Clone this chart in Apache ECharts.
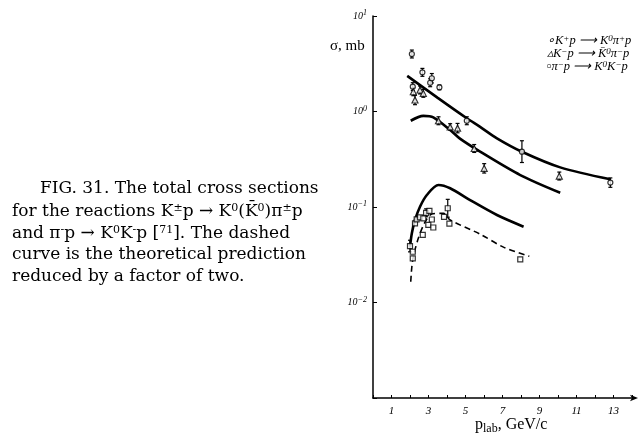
<!DOCTYPE html>
<html><head><meta charset="utf-8">
<script src="https://cdn.jsdelivr.net/npm/echarts@6/dist/echarts.min.js"></script>
<style>html,body{margin:0;padding:0;background:#fff}#c{width:643px;height:440px}</style>
</head><body><div id="c"></div>
<script>
// ---- data ----
const xTicks = [1, 3, 5, 7, 9, 11, 13];
const yTickExp = [-2, -1, 0, 1];
// K+ p -> K0 pi+ p  (circles): x, sigma (mb), error factor
const kpX = [2.1, 2.15, 2.67, 3.09, 3.18, 3.59, 5.07, 8.05, 12.83];
const kpY = [4.0, 1.82, 2.57, 2.0, 2.23, 1.79, 0.80, 0.38, 0.18];
const kpE = [1.1, 1.1, 1.1, 1.1, 1.12, 1.06, 1.1, 1.3, 1.12];
// K- p -> K0bar pi- p (triangles)
const kmX = [2.18, 2.27, 2.54, 2.72, 3.54, 4.17, 4.57, 5.47, 6.01, 10.07];
const kmY = [1.61, 1.32, 1.68, 1.55, 0.80, 0.69, 0.67, 0.41, 0.254, 0.211];
const kmE = [1.1, 1.12, 1.1, 1.1, 1.1, 1.08, 1.12, 1.1, 1.12, 1.1];
// pi- p -> K0 K- p (squares)
const pmX = [2.0, 2.15, 2.15, 2.27, 2.36, 2.54, 2.72, 2.87, 3.05, 3.18, 2.99, 3.26, 2.69, 4.04, 3.84, 4.13, 7.96];
const pmY = [0.039, 0.034, 0.029, 0.0675, 0.0743, 0.078, 0.076, 0.087, 0.091, 0.074, 0.065, 0.061, 0.051, 0.097, 0.079, 0.067, 0.0283];
const pmE = [1.15, 1.0, 1.0, 1.0, 1.0, 1.0, 1.0, 1.1, 1.0, 1.0, 1.0, 1.0, 1.0, 1.24, 1.0, 1.0, 1.0];
// theory curves
const c1X = [1.85, 3.5, 5.07, 5.79, 6.70, 8.05, 10.12, 12.83];
const c1Y = [2.36, 1.39, 0.85, 0.69, 0.524, 0.379, 0.26, 0.195];
const c2X = [2.04, 2.72, 3.26, 4.17, 4.70, 5.79, 7.96, 10.12];
const c2Y = [0.80, 0.90, 0.87, 0.64, 0.52, 0.38, 0.216, 0.141];
const c3X = [2.0, 2.10, 2.27, 2.54, 2.91, 3.54, 4.17, 5.25, 6.70, 8.14];
const c3Y = [0.0384, 0.0531, 0.0731, 0.1007, 0.1336, 0.170, 0.157, 0.118, 0.0824, 0.0622];
const c4X = [2.04, 2.10, 2.18, 2.45, 2.82, 3.18, 3.81, 4.17, 5.79, 7.05, 8.45];
const c4Y = [0.0165, 0.0237, 0.0302, 0.047, 0.070, 0.0845, 0.0859, 0.0731, 0.052, 0.038, 0.0305];

const zip = (a, b) => a.map((v, i) => [v, b[i]]);
const zip3 = (a, b, c) => a.map((v, i) => [v, b[i], c[i]]);

function errSeries(xs, ys, es) {
  return {
    type: 'custom', z: 3,
    renderItem: (params, api) => {
      const x = api.value(0), y = api.value(1), e = api.value(2);
      if (e <= 1.0001) return null;
      const t = api.coord([x, y * e]), b = api.coord([x, y / e]);
      const st = { stroke: '#000', lineWidth: 1.2 };
      return { type: 'group', children: [
        { type: 'line', shape: { x1: t[0], y1: t[1], x2: b[0], y2: b[1] }, style: st },
        { type: 'line', shape: { x1: t[0] - 2, y1: t[1], x2: t[0] + 2, y2: t[1] }, style: st },
        { type: 'line', shape: { x1: b[0] - 2, y1: b[1], x2: b[0] + 2, y2: b[1] }, style: st }
      ] };
    },
    data: zip3(xs, ys, es)
  };
}
function pts(xs, ys, sym) {
  return { type: 'scatter', z: 5, symbol: sym, symbolSize: sym === 'triangle' ? 6 : 5,
    itemStyle: { color: '#fff', borderColor: '#000', borderWidth: 1.2 }, data: zip(xs, ys) };
}
function curve(xs, ys, dashed) {
  return { type: 'line', z: 2, smooth: 0.3, symbol: 'none',
    lineStyle: { color: '#000', width: dashed ? 1.6 : 2.6, type: dashed ? [6, 4] : 'solid' },
    data: zip(xs, ys) };
}

const serif = 'Liberation Serif';
const capFont = 'DejaVu Serif';
const capRich = {
  n: { fontSize: 17, fontFamily: capFont, lineHeight: 20, fill: '#000' },
  s: { fontSize: 11, fontFamily: capFont, lineHeight: 20, verticalAlign: 'top', padding: [1, 0, 0, 0], fill: '#000' }
};
function capLine(x, y, text) {
  return { type: 'text', left: x, top: y - 10, style: { text: text, rich: capRich, fontSize: 17, fontFamily: capFont, fill: '#000' } };
}
const legRich = {
  n: { fontSize: 12.5, fontFamily: serif, fontStyle: 'italic', lineHeight: 13, fill: '#000' },
  s: { fontSize: 9, fontFamily: serif, fontStyle: 'italic', lineHeight: 13, verticalAlign: 'top', fill: '#000' }
};
function legLine(x, y, text) {
  return { type: 'text', left: x, top: y - 6, style: { text: text, rich: legRich } };
}

const chart = echarts.init(document.getElementById('c'), null, { renderer: 'canvas' });
chart.setOption({
  animation: false,
  backgroundColor: '#fff',
  grid: { left: 373, right: 11, top: 16, bottom: 42 },
  xAxis: {
    type: 'value', min: 0, max: 14, interval: 1,
    axisLine: { show: true, lineStyle: { color: '#000', width: 1.5 }, symbol: ['none', 'arrow'], symbolSize: [5, 8], symbolOffset: [0, 6] },
    axisTick: { show: true, inside: true, length: 3, lineStyle: { color: '#000' } },
    splitLine: { show: false },
    axisLabel: { color: '#000', fontFamily: serif, fontStyle: 'italic', fontSize: 11, margin: 8,
      formatter: v => xTicks.indexOf(v) >= 0 ? String(v) : '' }
  },
  yAxis: {
    type: 'log', logBase: 10, min: 0.001, max: 10,
    axisLine: { show: true, lineStyle: { color: '#000', width: 1.5 } },
    axisTick: { show: true, inside: true, length: 4, lineStyle: { color: '#000' } },
    splitLine: { show: false },
    axisLabel: {
      color: '#000', margin: 6,
      formatter: v => {
        const e = Math.round(Math.log10(v));
        return yTickExp.indexOf(e) >= 0 ? '{b|10}{e|' + (e < 0 ? '−' + (-e) : e) + '}' : '';
      },
      rich: {
        b: { fontSize: 10, fontFamily: serif, fontStyle: 'italic', color: '#000', lineHeight: 14 },
        e: { fontSize: 8, fontFamily: serif, fontStyle: 'italic', color: '#000', verticalAlign: 'top', lineHeight: 14 }
      }
    }
  },
  graphic: [
    { type: 'text', left: 330, top: 39, style: { text: 'σ, mb', fontSize: 15, fontFamily: serif, fill: '#000' } },
    { type: 'text', left: 475, top: 417, style: { text: '{n|p}{b|lab}{n|, GeV/c}', rich: {
      n: { fontSize: 16, fontFamily: serif, lineHeight: 20, fill: '#000' },
      b: { fontSize: 12, fontFamily: serif, lineHeight: 20, verticalAlign: 'bottom', fill: '#000' } } } },
    legLine(547, 40, '{n|∘K}{s|+}{n|p ⟶ K}{s|0}{n|π}{s|+}{n|p}'),
    legLine(547, 53, '{n|▵K}{s|−}{n|p ⟶ K̄}{s|0}{n|π}{s|−}{n|p}'),
    legLine(547, 66, '{n|▫π}{s|−}{n|p ⟶ K}{s|0}{n|K}{s|−}{n|p}'),
    capLine(40, 190, '{n|FIG. 31. The total cross sections}'),
    capLine(12, 212, '{n|for the reactions K}{s|±}{n|p → K}{s|0}{n|(K̄}{s|0}{n|)π}{s|±}{n|p}'),
    capLine(12, 234, '{n|and π}{s|-}{n|p → K}{s|0}{n|K}{s|-}{n|p [}{s|71}{n|]. The dashed}'),
    capLine(12, 256, '{n|curve is the theoretical prediction}'),
    capLine(12, 278, '{n|reduced by a factor of two.}')
  ],
  series: [
    curve(c1X, c1Y, false),
    curve(c2X, c2Y, false),
    curve(c3X, c3Y, false),
    curve(c4X, c4Y, true),
    errSeries(kpX, kpY, kpE),
    errSeries(kmX, kmY, kmE),
    errSeries(pmX, pmY, pmE),
    pts(kpX, kpY, 'circle'),
    pts(kmX, kmY, 'triangle'),
    pts(pmX, pmY, 'rect')
  ]
});
</script></body></html>
